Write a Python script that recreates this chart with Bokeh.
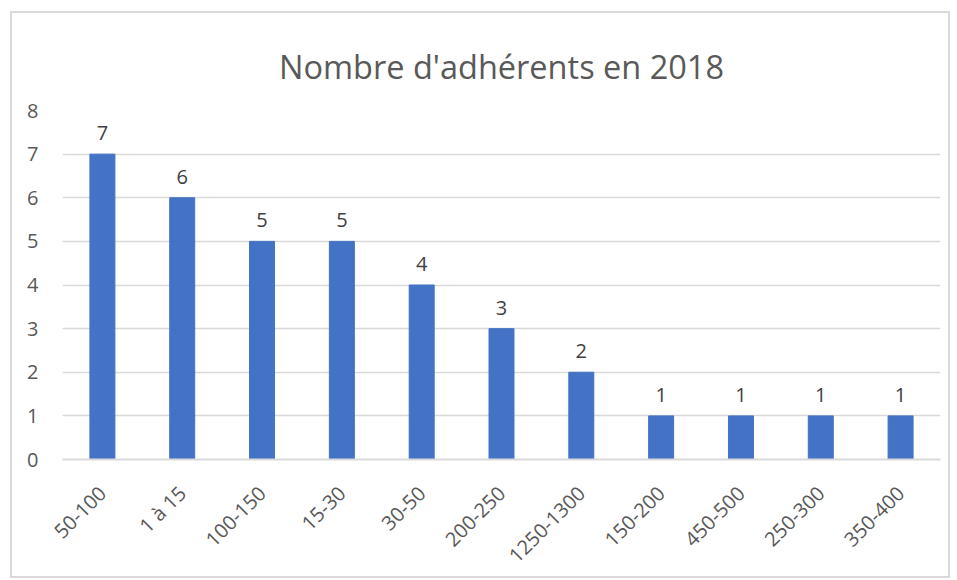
from math import pi
from bokeh.plotting import figure
from bokeh.models import ColumnDataSource, FixedTicker, Range1d
from bokeh.core.properties import value
from bokeh.embed import file_html
from bokeh.resources import INLINE

categories = ["50-100", "1 à 15", "100-150", "15-30", "30-50", "200-250",
              "1250-1300", "150-200", "450-500", "250-300", "350-400"]
counts = [7, 6, 5, 5, 4, 3, 2, 1, 1, 1, 1]
y_ticks = [0, 1, 2, 3, 4, 5, 6, 7, 8]
title_text = "Nombre d'adhérents en 2018"

FONT = "Open Sans"
src = ColumnDataSource(dict(cat=categories, n=counts, lab=[str(c) for c in counts]))

p = figure(x_range=categories, y_range=Range1d(0, 8), width=940, height=567,
           output_backend="svg", toolbar_location=None,
           min_border_left=50, min_border_right=12, min_border_top=97, min_border_bottom=116,
           title=title_text)
p.styles = {"border": "2px solid #d9d9d9", "margin-left": "10px", "margin-top": "11px"}
p.outline_line_color = None
p.background_fill_color = "white"

p.title.align = "center"
p.title.text_font = FONT
p.title.text_font_size = "32.5px"
p.title.text_font_style = "normal"
p.title.text_color = "#595959"
p.title.standoff = 44

p.vbar(x="cat", top="n", width=0.313, source=src, color="#4472C4")
p.text(x="cat", y="n", text="lab", source=src, text_align="center", text_baseline="bottom",
       y_offset=-14, text_font=value(FONT), text_font_size="20px", text_color="#404040")

p.yaxis.ticker = FixedTicker(ticks=y_ticks)
p.yaxis.axis_line_color = None
p.yaxis.major_tick_line_color = None
p.yaxis.minor_tick_line_color = None
p.yaxis.major_label_text_font = FONT
p.yaxis.major_label_text_font_size = "20px"
p.yaxis.major_label_text_color = "#595959"
p.yaxis.major_label_standoff = 18

p.xaxis.axis_line_color = "#d9d9d9"
p.xaxis.axis_line_width = 2
p.xaxis.major_tick_line_color = None
p.xaxis.major_label_orientation = pi / 4
p.xaxis.major_label_text_font = FONT
p.xaxis.major_label_text_font_size = "20px"
p.xaxis.major_label_text_color = "#595959"
p.xaxis.major_label_standoff = 24

p.xgrid.grid_line_color = None
p.ygrid.grid_line_color = "#d9d9d9"
p.ygrid.grid_line_width = 1.5

open("out.html", "w").write(file_html(p, INLINE))
